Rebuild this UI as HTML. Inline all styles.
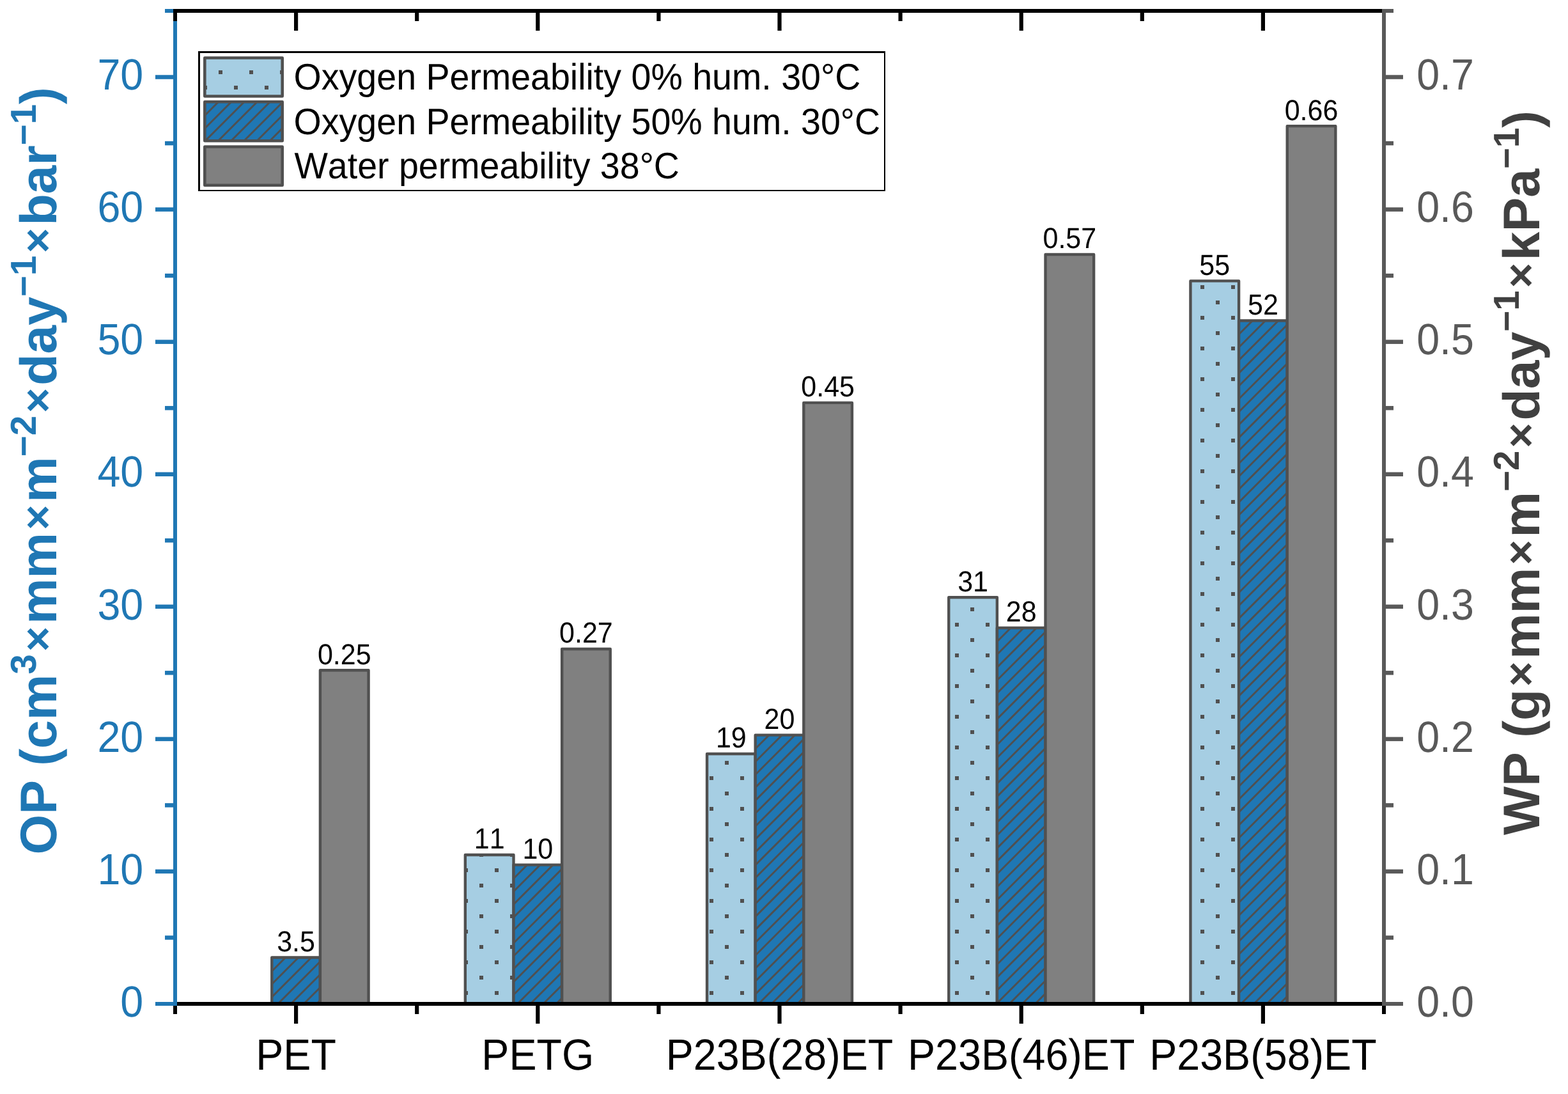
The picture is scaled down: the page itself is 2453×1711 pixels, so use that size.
<!DOCTYPE html>
<html lang="en"><head><meta charset="utf-8"><title>Oxygen and water permeability</title>
<style>
html,body{margin:0;padding:0;background:#fff;}
body{width:2453px;height:1711px;overflow:hidden;}
svg{display:block;}
text{font-family:"Liberation Sans",sans-serif;font-kerning:none;font-variant-ligatures:none;text-rendering:geometricPrecision;white-space:pre;}
.tk{font-size:64.60px;}
.bl{font-size:43.00px;fill:#000;text-anchor:middle;}
.lg{font-size:55.56px;fill:#000;}
.ti{font-size:80.56px;font-weight:bold;}
</style></head><body>
<svg width="2453" height="1711" viewBox="0 0 2453 1711" role="img" aria-label="Oxygen and water permeability bar chart">
<defs>
<pattern id="dots" patternUnits="userSpaceOnUse" x="0" y="0" width="48" height="48"><rect x="6" y="14" width="6" height="6" fill="#505050"/><rect x="30" y="38" width="6" height="6" fill="#505050"/></pattern>
</defs>
<rect x="0" y="0" width="2453" height="1711" fill="#fff"/>
<g id="bars">
<rect x="425.28" y="1497.53" width="75.64" height="72.47" fill="#1f77b4"/><clipPath id="hc1"><rect x="425.28" y="1497.53" width="75.64" height="72.47"/></clipPath><path clip-path="url(#hc1)" d="M421.3 1502.7L430.5 1493.5M421.3 1522.9L450.7 1493.5M421.3 1543.1L470.9 1493.5M421.3 1563.3L491.1 1493.5M421.3 1583.5L511.3 1493.5M421.3 1603.7L531.5 1493.5M421.3 1623.9L551.7 1493.5M421.3 1644.1L571.9 1493.5M421.3 1664.3L592.1 1493.5" stroke="#505050" stroke-width="2.9" fill="none"/><rect x="425.28" y="1497.53" width="75.64" height="72.47" fill="none" stroke="#505050" stroke-width="4.4" stroke-linejoin="round"/>
<rect x="500.92" y="1048.19" width="75.64" height="521.81" fill="#808080"/><rect x="500.92" y="1048.19" width="75.64" height="521.81" fill="none" stroke="#505050" stroke-width="4.4" stroke-linejoin="round"/>
<rect x="727.84" y="1337.05" width="75.64" height="232.95" fill="#a6cee3"/><rect x="727.84" y="1337.05" width="75.64" height="232.95" fill="url(#dots)"/><rect x="727.84" y="1337.05" width="75.64" height="232.95" fill="none" stroke="#505050" stroke-width="4.4" stroke-linejoin="round"/>
<rect x="803.48" y="1352.58" width="75.64" height="217.42" fill="#1f77b4"/><clipPath id="hc2"><rect x="803.48" y="1352.58" width="75.64" height="217.42"/></clipPath><path clip-path="url(#hc2)" d="M799.5 1357.8L808.7 1348.6M799.5 1378.0L828.9 1348.6M799.5 1398.2L849.1 1348.6M799.5 1418.4L869.3 1348.6M799.5 1438.6L889.5 1348.6M799.5 1458.8L909.7 1348.6M799.5 1479.0L929.9 1348.6M799.5 1499.2L950.1 1348.6M799.5 1519.4L970.3 1348.6M799.5 1539.6L990.5 1348.6M799.5 1559.8L1010.7 1348.6M799.5 1580.0L1030.9 1348.6M799.5 1600.2L1051.1 1348.6M799.5 1620.4L1071.3 1348.6M799.5 1640.6L1091.5 1348.6M799.5 1660.8L1111.7 1348.6" stroke="#505050" stroke-width="2.9" fill="none"/><rect x="803.48" y="1352.58" width="75.64" height="217.42" fill="none" stroke="#505050" stroke-width="4.4" stroke-linejoin="round"/>
<rect x="879.12" y="1015.06" width="75.64" height="554.94" fill="#808080"/><rect x="879.12" y="1015.06" width="75.64" height="554.94" fill="none" stroke="#505050" stroke-width="4.4" stroke-linejoin="round"/>
<rect x="1106.04" y="1179.06" width="75.64" height="390.94" fill="#a6cee3"/><rect x="1106.04" y="1179.06" width="75.64" height="390.94" fill="url(#dots)"/><rect x="1106.04" y="1179.06" width="75.64" height="390.94" fill="none" stroke="#505050" stroke-width="4.4" stroke-linejoin="round"/>
<rect x="1181.68" y="1149.65" width="75.64" height="420.35" fill="#1f77b4"/><clipPath id="hc3"><rect x="1181.68" y="1149.65" width="75.64" height="420.35"/></clipPath><path clip-path="url(#hc3)" d="M1177.7 1154.9L1186.9 1145.7M1177.7 1175.1L1207.1 1145.7M1177.7 1195.3L1227.3 1145.7M1177.7 1215.5L1247.5 1145.7M1177.7 1235.7L1267.7 1145.7M1177.7 1255.9L1287.9 1145.7M1177.7 1276.1L1308.1 1145.7M1177.7 1296.3L1328.3 1145.7M1177.7 1316.5L1348.5 1145.7M1177.7 1336.7L1368.7 1145.7M1177.7 1356.9L1388.9 1145.7M1177.7 1377.1L1409.1 1145.7M1177.7 1397.3L1429.3 1145.7M1177.7 1417.5L1449.5 1145.7M1177.7 1437.7L1469.7 1145.7M1177.7 1457.9L1489.9 1145.7M1177.7 1478.1L1510.1 1145.7M1177.7 1498.3L1530.3 1145.7M1177.7 1518.5L1550.5 1145.7M1177.7 1538.7L1570.7 1145.7M1177.7 1558.9L1590.9 1145.7M1177.7 1579.1L1611.1 1145.7M1177.7 1599.3L1631.3 1145.7M1177.7 1619.5L1651.5 1145.7M1177.7 1639.7L1671.7 1145.7M1177.7 1659.9L1691.9 1145.7" stroke="#505050" stroke-width="2.9" fill="none"/><rect x="1181.68" y="1149.65" width="75.64" height="420.35" fill="none" stroke="#505050" stroke-width="4.4" stroke-linejoin="round"/>
<rect x="1257.32" y="629.92" width="75.64" height="940.08" fill="#808080"/><rect x="1257.32" y="629.92" width="75.64" height="940.08" fill="none" stroke="#505050" stroke-width="4.4" stroke-linejoin="round"/>
<rect x="1484.24" y="934.31" width="75.64" height="635.69" fill="#a6cee3"/><rect x="1484.24" y="934.31" width="75.64" height="635.69" fill="url(#dots)"/><rect x="1484.24" y="934.31" width="75.64" height="635.69" fill="none" stroke="#505050" stroke-width="4.4" stroke-linejoin="round"/>
<rect x="1559.88" y="981.93" width="75.64" height="588.07" fill="#1f77b4"/><clipPath id="hc4"><rect x="1559.88" y="981.93" width="75.64" height="588.07"/></clipPath><path clip-path="url(#hc4)" d="M1555.9 987.1L1565.1 977.9M1555.9 1007.3L1585.3 977.9M1555.9 1027.5L1605.5 977.9M1555.9 1047.7L1625.7 977.9M1555.9 1067.9L1645.9 977.9M1555.9 1088.1L1666.1 977.9M1555.9 1108.3L1686.3 977.9M1555.9 1128.5L1706.5 977.9M1555.9 1148.7L1726.7 977.9M1555.9 1168.9L1746.9 977.9M1555.9 1189.1L1767.1 977.9M1555.9 1209.3L1787.3 977.9M1555.9 1229.5L1807.5 977.9M1555.9 1249.7L1827.7 977.9M1555.9 1269.9L1847.9 977.9M1555.9 1290.1L1868.1 977.9M1555.9 1310.3L1888.3 977.9M1555.9 1330.5L1908.5 977.9M1555.9 1350.7L1928.7 977.9M1555.9 1370.9L1948.9 977.9M1555.9 1391.1L1969.1 977.9M1555.9 1411.3L1989.3 977.9M1555.9 1431.5L2009.5 977.9M1555.9 1451.7L2029.7 977.9M1555.9 1471.9L2049.9 977.9M1555.9 1492.1L2070.1 977.9M1555.9 1512.3L2090.3 977.9M1555.9 1532.5L2110.5 977.9M1555.9 1552.7L2130.7 977.9M1555.9 1572.9L2150.9 977.9M1555.9 1593.1L2171.1 977.9M1555.9 1613.3L2191.3 977.9M1555.9 1633.5L2211.5 977.9M1555.9 1653.7L2231.7 977.9" stroke="#505050" stroke-width="2.9" fill="none"/><rect x="1559.88" y="981.93" width="75.64" height="588.07" fill="none" stroke="#505050" stroke-width="4.4" stroke-linejoin="round"/>
<rect x="1635.52" y="398" width="75.64" height="1172" fill="#808080"/><rect x="1635.52" y="398" width="75.64" height="1172" fill="none" stroke="#505050" stroke-width="4.4" stroke-linejoin="round"/>
<rect x="1862.44" y="439.42" width="75.64" height="1130.58" fill="#a6cee3"/><rect x="1862.44" y="439.42" width="75.64" height="1130.58" fill="url(#dots)"/><rect x="1862.44" y="439.42" width="75.64" height="1130.58" fill="none" stroke="#505050" stroke-width="4.4" stroke-linejoin="round"/>
<rect x="1938.08" y="501.54" width="75.64" height="1068.46" fill="#1f77b4"/><clipPath id="hc5"><rect x="1938.08" y="501.54" width="75.64" height="1068.46"/></clipPath><path clip-path="url(#hc5)" d="M1934.1 506.7L1943.3 497.5M1934.1 526.9L1963.5 497.5M1934.1 547.1L1983.7 497.5M1934.1 567.3L2003.9 497.5M1934.1 587.5L2024.1 497.5M1934.1 607.7L2044.3 497.5M1934.1 627.9L2064.5 497.5M1934.1 648.1L2084.7 497.5M1934.1 668.3L2104.9 497.5M1934.1 688.5L2125.1 497.5M1934.1 708.7L2145.3 497.5M1934.1 728.9L2165.5 497.5M1934.1 749.1L2185.7 497.5M1934.1 769.3L2205.9 497.5M1934.1 789.5L2226.1 497.5M1934.1 809.7L2246.3 497.5M1934.1 829.9L2266.5 497.5M1934.1 850.1L2286.7 497.5M1934.1 870.3L2306.9 497.5M1934.1 890.5L2327.1 497.5M1934.1 910.7L2347.3 497.5M1934.1 930.9L2367.5 497.5M1934.1 951.1L2387.7 497.5M1934.1 971.3L2407.9 497.5M1934.1 991.5L2428.1 497.5M1934.1 1011.7L2448.3 497.5M1934.1 1031.9L2468.5 497.5M1934.1 1052.1L2488.7 497.5M1934.1 1072.3L2508.9 497.5M1934.1 1092.5L2529.1 497.5M1934.1 1112.7L2549.3 497.5M1934.1 1132.9L2569.5 497.5M1934.1 1153.1L2589.7 497.5M1934.1 1173.3L2609.9 497.5M1934.1 1193.5L2630.1 497.5M1934.1 1213.7L2650.3 497.5M1934.1 1233.9L2670.5 497.5M1934.1 1254.1L2690.7 497.5M1934.1 1274.3L2710.9 497.5M1934.1 1294.5L2731.1 497.5M1934.1 1314.7L2751.3 497.5M1934.1 1334.9L2771.5 497.5M1934.1 1355.1L2791.7 497.5M1934.1 1375.3L2811.9 497.5M1934.1 1395.5L2832.1 497.5M1934.1 1415.7L2852.3 497.5M1934.1 1435.9L2872.5 497.5M1934.1 1456.1L2892.7 497.5M1934.1 1476.3L2912.9 497.5M1934.1 1496.5L2933.1 497.5M1934.1 1516.7L2953.3 497.5M1934.1 1536.9L2973.5 497.5M1934.1 1557.1L2993.7 497.5M1934.1 1577.3L3013.9 497.5M1934.1 1597.5L3034.1 497.5M1934.1 1617.7L3054.3 497.5M1934.1 1637.9L3074.5 497.5M1934.1 1658.1L3094.7 497.5" stroke="#505050" stroke-width="2.9" fill="none"/><rect x="1938.08" y="501.54" width="75.64" height="1068.46" fill="none" stroke="#505050" stroke-width="4.4" stroke-linejoin="round"/>
<rect x="2013.72" y="197.15" width="75.64" height="1372.85" fill="#808080"/><rect x="2013.72" y="197.15" width="75.64" height="1372.85" fill="none" stroke="#505050" stroke-width="4.4" stroke-linejoin="round"/>
</g>
<g id="barlabels">
<text class="bl" transform="translate(463.10,1487.93) scale(1,1.055)">3.5</text>
<text class="bl" transform="translate(538.74,1038.59) scale(1,1.055)">0.25</text>
<text class="bl" transform="translate(765.66,1327.45) scale(1,1.055)">11</text>
<text class="bl" transform="translate(841.30,1342.98) scale(1,1.055)">10</text>
<text class="bl" transform="translate(916.94,1005.46) scale(1,1.055)">0.27</text>
<text class="bl" transform="translate(1143.86,1169.46) scale(1,1.055)">19</text>
<text class="bl" transform="translate(1219.50,1140.05) scale(1,1.055)">20</text>
<text class="bl" transform="translate(1295.14,620.32) scale(1,1.055)">0.45</text>
<text class="bl" transform="translate(1522.06,924.71) scale(1,1.055)">31</text>
<text class="bl" transform="translate(1597.70,972.33) scale(1,1.055)">28</text>
<text class="bl" transform="translate(1673.34,388.40) scale(1,1.055)">0.57</text>
<text class="bl" transform="translate(1900.26,429.82) scale(1,1.055)">55</text>
<text class="bl" transform="translate(1975.90,491.94) scale(1,1.055)">52</text>
<text class="bl" transform="translate(2051.54,187.55) scale(1,1.055)">0.66</text>
</g>
<g id="axes">
<rect x="277" y="1567" width="1885" height="6" fill="#000"/>
<rect x="271" y="14" width="6" height="1559" fill="#1f77b4"/>
<rect x="243" y="1567" width="29" height="6" fill="#1f77b4"/>
<rect x="258" y="1463.22" width="14" height="6.5" fill="#1f77b4"/>
<rect x="243" y="1359.68" width="29" height="6.5" fill="#1f77b4"/>
<rect x="258" y="1256.15" width="14" height="6.5" fill="#1f77b4"/>
<rect x="243" y="1152.62" width="29" height="6.5" fill="#1f77b4"/>
<rect x="258" y="1049.08" width="14" height="6.5" fill="#1f77b4"/>
<rect x="243" y="945.55" width="29" height="6.5" fill="#1f77b4"/>
<rect x="258" y="842.02" width="14" height="6.5" fill="#1f77b4"/>
<rect x="243" y="738.48" width="29" height="6.5" fill="#1f77b4"/>
<rect x="258" y="634.95" width="14" height="6.5" fill="#1f77b4"/>
<rect x="243" y="531.42" width="29" height="6.5" fill="#1f77b4"/>
<rect x="258" y="427.88" width="14" height="6.5" fill="#1f77b4"/>
<rect x="243" y="324.35" width="29" height="6.5" fill="#1f77b4"/>
<rect x="258" y="220.82" width="14" height="6.5" fill="#1f77b4"/>
<rect x="243" y="117.28" width="29" height="6.5" fill="#1f77b4"/>
<rect x="258" y="14" width="14" height="6" fill="#1f77b4"/>
<rect x="271" y="14" width="1891" height="6" fill="#000"/>
<rect x="271" y="19" width="6" height="14" fill="#000"/>
<rect x="271" y="1573" width="6" height="13" fill="#000"/>
<rect x="460" y="19" width="6.2" height="29" fill="#000"/>
<rect x="460" y="1573" width="6.2" height="28" fill="#000"/>
<rect x="649.1" y="19" width="6.2" height="14" fill="#000"/>
<rect x="649.1" y="1573" width="6.2" height="13" fill="#000"/>
<rect x="838.2" y="19" width="6.2" height="29" fill="#000"/>
<rect x="838.2" y="1573" width="6.2" height="28" fill="#000"/>
<rect x="1027.3" y="19" width="6.2" height="14" fill="#000"/>
<rect x="1027.3" y="1573" width="6.2" height="13" fill="#000"/>
<rect x="1216.4" y="19" width="6.2" height="29" fill="#000"/>
<rect x="1216.4" y="1573" width="6.2" height="28" fill="#000"/>
<rect x="1405.5" y="19" width="6.2" height="14" fill="#000"/>
<rect x="1405.5" y="1573" width="6.2" height="13" fill="#000"/>
<rect x="1594.6" y="19" width="6.2" height="29" fill="#000"/>
<rect x="1594.6" y="1573" width="6.2" height="28" fill="#000"/>
<rect x="1783.7" y="19" width="6.2" height="14" fill="#000"/>
<rect x="1783.7" y="1573" width="6.2" height="13" fill="#000"/>
<rect x="1972.8" y="19" width="6.2" height="29" fill="#000"/>
<rect x="1972.8" y="1573" width="6.2" height="28" fill="#000"/>
<rect x="2162" y="19" width="6" height="14" fill="#000"/>
<rect x="2162" y="1573" width="6" height="13" fill="#000"/>
<rect x="2162" y="14" width="6" height="1559" fill="#595959"/>
<rect x="2167" y="1567" width="28" height="6" fill="#595959"/>
<rect x="2167" y="1463.22" width="13" height="6.5" fill="#595959"/>
<rect x="2167" y="1359.68" width="28" height="6.5" fill="#595959"/>
<rect x="2167" y="1256.15" width="13" height="6.5" fill="#595959"/>
<rect x="2167" y="1152.62" width="28" height="6.5" fill="#595959"/>
<rect x="2167" y="1049.08" width="13" height="6.5" fill="#595959"/>
<rect x="2167" y="945.55" width="28" height="6.5" fill="#595959"/>
<rect x="2167" y="842.02" width="13" height="6.5" fill="#595959"/>
<rect x="2167" y="738.48" width="28" height="6.5" fill="#595959"/>
<rect x="2167" y="634.95" width="13" height="6.5" fill="#595959"/>
<rect x="2167" y="531.42" width="28" height="6.5" fill="#595959"/>
<rect x="2167" y="427.88" width="13" height="6.5" fill="#595959"/>
<rect x="2167" y="324.35" width="28" height="6.5" fill="#595959"/>
<rect x="2167" y="220.82" width="13" height="6.5" fill="#595959"/>
<rect x="2167" y="117.28" width="28" height="6.5" fill="#595959"/>
<rect x="2167" y="14" width="13" height="6" fill="#595959"/>
</g>
<g id="ticklabels">
<text class="tk" transform="translate(224.30,1589.70) scale(1,1.060)" text-anchor="end" fill="#1f77b4">0</text>
<text class="tk" transform="translate(224.30,1382.63) scale(1,1.060)" text-anchor="end" fill="#1f77b4">10</text>
<text class="tk" transform="translate(224.30,1175.57) scale(1,1.060)" text-anchor="end" fill="#1f77b4">20</text>
<text class="tk" transform="translate(224.30,968.50) scale(1,1.060)" text-anchor="end" fill="#1f77b4">30</text>
<text class="tk" transform="translate(224.30,761.43) scale(1,1.060)" text-anchor="end" fill="#1f77b4">40</text>
<text class="tk" transform="translate(224.30,554.37) scale(1,1.060)" text-anchor="end" fill="#1f77b4">50</text>
<text class="tk" transform="translate(224.30,347.30) scale(1,1.060)" text-anchor="end" fill="#1f77b4">60</text>
<text class="tk" transform="translate(224.30,140.23) scale(1,1.060)" text-anchor="end" fill="#1f77b4">70</text>
<text class="tk" transform="translate(2216.20,1589.70) scale(1,1.060)" fill="#595959">0.0</text>
<text class="tk" transform="translate(2216.20,1382.63) scale(1,1.060)" fill="#595959">0.1</text>
<text class="tk" transform="translate(2216.20,1175.57) scale(1,1.060)" fill="#595959">0.2</text>
<text class="tk" transform="translate(2216.20,968.50) scale(1,1.060)" fill="#595959">0.3</text>
<text class="tk" transform="translate(2216.20,761.43) scale(1,1.060)" fill="#595959">0.4</text>
<text class="tk" transform="translate(2216.20,554.37) scale(1,1.060)" fill="#595959">0.5</text>
<text class="tk" transform="translate(2216.20,347.30) scale(1,1.060)" fill="#595959">0.6</text>
<text class="tk" transform="translate(2216.20,140.23) scale(1,1.060)" fill="#595959">0.7</text>
<text class="tk" transform="translate(463.10,1673.00) scale(1,1.060)" text-anchor="middle" fill="#000">PET</text>
<text class="tk" transform="translate(841.30,1673.00) scale(1,1.060)" text-anchor="middle" fill="#000">PETG</text>
<text class="tk" transform="translate(1219.50,1673.00) scale(1,1.060)" text-anchor="middle" fill="#000">P23B(28)ET</text>
<text class="tk" transform="translate(1597.70,1673.00) scale(1,1.060)" text-anchor="middle" fill="#000">P23B(46)ET</text>
<text class="tk" transform="translate(1975.90,1673.00) scale(1,1.060)" text-anchor="middle" fill="#000">P23B(58)ET</text>
</g>
<g id="titles">
<text class="ti" transform="translate(87.9,1336.5) rotate(-90)" fill="#1f77b4"><tspan x="0.00" y="0">OP (cm</tspan><tspan x="282.04" y="-31.80" font-size="56.40">3</tspan><tspan x="317.17" y="-6.00" font-size="67.67">×</tspan><tspan x="360.45" y="0">mm</tspan><tspan x="507.48" y="-6.00" font-size="67.67">×</tspan><tspan x="550.76" y="0">m</tspan><tspan x="622.39" y="-31.80" font-size="56.40">−2</tspan><tspan x="690.46" y="-6.00" font-size="67.67">×</tspan><tspan x="733.74" y="0">day</tspan><tspan x="872.56" y="-31.80" font-size="56.40">−1</tspan><tspan x="940.62" y="-6.00" font-size="67.67">×</tspan><tspan x="983.90" y="0">bar</tspan><tspan x="1109.27" y="-31.80" font-size="56.40">−1</tspan><tspan x="1173.57" y="0">)</tspan></text>
<text class="ti" transform="translate(2408.0,1306.0) rotate(-90)" fill="#404040"><tspan x="0.00" y="0">WP (g</tspan><tspan x="231.95" y="-6.00" font-size="67.67">×</tspan><tspan x="275.23" y="0">mm</tspan><tspan x="422.26" y="-6.00" font-size="67.67">×</tspan><tspan x="465.54" y="0">m</tspan><tspan x="537.17" y="-31.80" font-size="56.40">−2</tspan><tspan x="605.24" y="-6.00" font-size="67.67">×</tspan><tspan x="648.52" y="0">day</tspan><tspan x="787.34" y="-31.80" font-size="56.40">−1</tspan><tspan x="855.40" y="-6.00" font-size="67.67">×</tspan><tspan x="898.69" y="0">kPa</tspan><tspan x="1042.03" y="-31.80" font-size="56.40">−1</tspan><tspan x="1106.33" y="0">)</tspan></text>
</g>
<g id="legend">
<rect x="310" y="80" width="1075" height="219" fill="#000"/>
<rect x="313" y="83" width="1070" height="214" fill="#fff"/>
<rect x="320.3" y="90.5" width="121.4" height="60" fill="#a6cee3"/>
<rect x="320.3" y="90.5" width="121.4" height="60" fill="url(#dots)"/>
<rect x="320.3" y="90.5" width="121.4" height="60" fill="none" stroke="#505050" stroke-width="4.6" stroke-linejoin="round"/>
<text class="lg" transform="translate(459.60,139.70) scale(1,1.040)">Oxygen Permeability 0% hum. 30°C</text>
<rect x="320.3" y="159.3" width="121.4" height="61" fill="#1f77b4"/>
<clipPath id="hc6"><rect x="320.30" y="159.30" width="121.40" height="61.00"/></clipPath><path clip-path="url(#hc6)" d="M316.3 164.5L325.5 155.3M316.3 184.7L345.7 155.3M316.3 204.9L365.9 155.3M316.3 225.1L386.1 155.3M316.3 245.3L406.3 155.3M316.3 265.5L426.5 155.3M316.3 285.7L446.7 155.3M316.3 305.9L466.9 155.3M316.3 326.1L487.1 155.3M316.3 346.3L507.3 155.3" stroke="#505050" stroke-width="2.9" fill="none"/>
<rect x="320.3" y="159.3" width="121.4" height="61" fill="none" stroke="#505050" stroke-width="4.6" stroke-linejoin="round"/>
<text class="lg" transform="translate(459.60,209.70) scale(1,1.040)">Oxygen Permeability 50% hum. 30°C</text>
<rect x="320.3" y="229.5" width="121.4" height="60.2" fill="#808080"/>
<rect x="320.3" y="229.5" width="121.4" height="60.2" fill="none" stroke="#505050" stroke-width="4.6" stroke-linejoin="round"/>
<text class="lg" transform="translate(460.40,278.60) scale(1,1.040)">Water permeability 38°C</text>
</g>
</svg>
</body></html>
